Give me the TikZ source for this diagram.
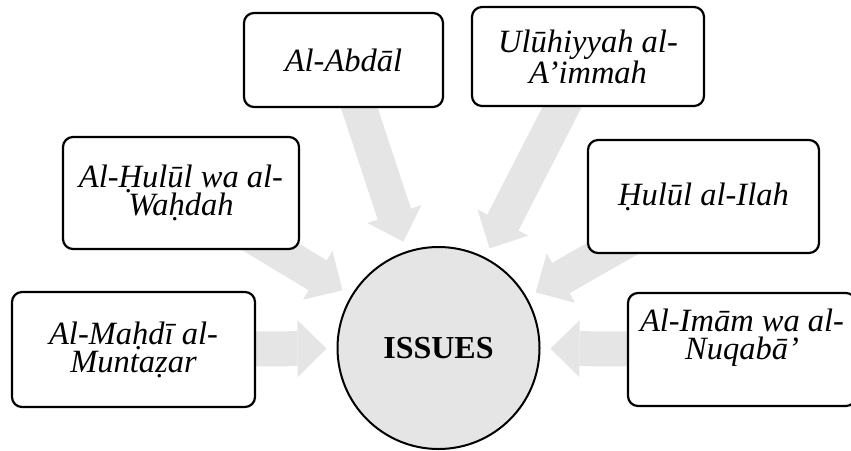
\documentclass[tikz,border=0pt]{standalone}
\usepackage{fontspec}
\setmainfont{Liberation Serif}
\usetikzlibrary{arrows.meta,calc,backgrounds}

\tikzset{
	topic/.style={draw, line width=2.2pt, rounded corners=10pt, fill=white, align=center, inner sep=0pt,
		font=\fontsize{32.5}{28}\selectfont\itshape},
	hub/.style={circle, draw, line width=2pt, fill=black!10, minimum size=202pt, inner sep=0pt,
		font=\fontsize{32}{32}\selectfont\bfseries},
	flow/.style={draw=black!10, line width=35pt, -{Triangle[width=57pt,length=29pt,line width=0pt]}}
}

\begin{document}
\begin{tikzpicture}[x=1pt,y=-1pt]
	\useasboundingbox (0,0) rectangle (851,450);
	\clip (0,0) rectangle (851,450);

	% centre
	\node[hub] (issues) at (438.5,348) {ISSUES};

	% boxes
	\node[topic, minimum width=243pt, minimum height=115pt] (mahdi) at (133.5,349.5) {Al-Maḥdī al-\\Muntaẓar};
	\node[topic, minimum width=236pt, minimum height=112pt] (wahdah) at (181,193) {Al-Ḥulūl wa al-\\Waḥdah};
	\node[topic, minimum width=199pt, minimum height=94pt] (abdal) at (343.5,60) {Al-Abdāl};
	\node[topic, minimum width=232pt, minimum height=99pt,
		font=\fontsize{32.5}{31}\selectfont\itshape] (aimmah) at (588,56.5) {Ulūhiyyah al-\\A’immah};
	\node[topic, minimum width=231pt, minimum height=113pt] (ilah) at (703.5,196.5) {Ḥulūl al-Ilah};
	\node[topic, minimum width=228pt, minimum height=113pt] (imam) at (742,349.5) {Al-Imām wa al-\\Nuqabā’\\[-6pt]\strut};

	% arrows
	\begin{scope}[on background layer]
		\foreach \b in {mahdi,wahdah,abdal,aimmah,ilah,imam}
			\draw[flow] (\b.center) -- ($(issues.center)!112pt!(\b.center)$);
	\end{scope}

\end{tikzpicture}
\end{document}
